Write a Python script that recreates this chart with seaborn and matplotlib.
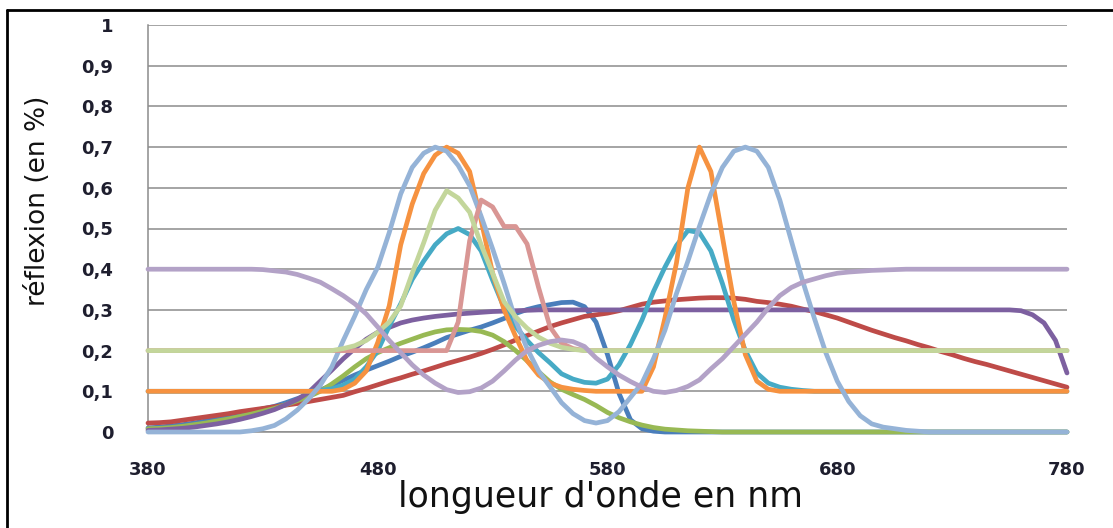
import matplotlib
matplotlib.use("Agg")
import matplotlib.pyplot as plt
from matplotlib.lines import Line2D
import seaborn as sns
import pandas as pd

# ---------------- data ----------------
wavelengths = list(range(380, 781, 5))

blue = [0.010, 0.012, 0.015, 0.018, 0.022, 0.027, 0.032, 0.037, 0.043, 0.050, 0.057,
        0.063, 0.072, 0.082, 0.092, 0.103, 0.115, 0.127, 0.140, 0.152, 0.163,
        0.174, 0.186, 0.196, 0.207, 0.219, 0.232, 0.241, 0.250, 0.258, 0.268,
        0.279, 0.291, 0.301, 0.308, 0.313, 0.318, 0.319, 0.308, 0.270, 0.190,
        0.095, 0.030, 0.008, 0.002, 0.0, 0.0, 0.0, 0.0, 0.0, 0.0,
        0.0, 0.0, 0.0, 0.0, 0.0, 0.0, 0.0, 0.0, 0.0, 0.0,
        0.0, 0.0, 0.0, 0.0, 0.0, 0.0, 0.0, 0.0, 0.0, 0.0,
        0.0, 0.0, 0.0, 0.0, 0.0, 0.0, 0.0, 0.0, 0.0, 0.0]

red = [0.022, 0.023, 0.025, 0.029, 0.033, 0.037, 0.041, 0.045, 0.050, 0.054, 0.058,
       0.062, 0.066, 0.070, 0.075, 0.080, 0.085, 0.090, 0.099, 0.107, 0.116,
       0.125, 0.133, 0.142, 0.150, 0.159, 0.168, 0.176, 0.184, 0.193, 0.203,
       0.214, 0.226, 0.237, 0.248, 0.259, 0.268, 0.276, 0.284, 0.288, 0.292,
       0.298, 0.306, 0.314, 0.319, 0.322, 0.325, 0.327, 0.329, 0.330, 0.330,
       0.329, 0.326, 0.321, 0.318, 0.314, 0.309, 0.302, 0.296, 0.288, 0.280,
       0.270, 0.260, 0.250, 0.241, 0.232, 0.224, 0.215, 0.207, 0.198, 0.190,
       0.181, 0.173, 0.166, 0.158, 0.150, 0.142, 0.134, 0.126, 0.118, 0.110]

green = [0.008, 0.009, 0.011, 0.014, 0.018, 0.022, 0.027, 0.032, 0.038, 0.044, 0.051,
         0.058, 0.067, 0.077, 0.087, 0.100, 0.118, 0.138, 0.160, 0.180, 0.195,
         0.207, 0.218, 0.228, 0.238, 0.246, 0.251, 0.252, 0.251, 0.247, 0.238,
         0.222, 0.200, 0.175, 0.148, 0.123, 0.105, 0.092, 0.080, 0.065, 0.048,
         0.035, 0.025, 0.017, 0.011, 0.007, 0.005, 0.003, 0.002, 0.001, 0.0,
         0.0, 0.0, 0.0, 0.0, 0.0, 0.0, 0.0, 0.0, 0.0, 0.0,
         0.0, 0.0, 0.0, 0.0, 0.0, 0.0, 0.0, 0.0, 0.0, 0.0,
         0.0, 0.0, 0.0, 0.0, 0.0, 0.0, 0.0, 0.0, 0.0, 0.0]

purple = [0.004, 0.005, 0.007, 0.009, 0.012, 0.016, 0.020, 0.025, 0.031, 0.038, 0.046,
          0.055, 0.067, 0.080, 0.098, 0.125, 0.152, 0.180, 0.205, 0.228, 0.245,
          0.257, 0.268, 0.275, 0.280, 0.284, 0.287, 0.290, 0.292, 0.294, 0.296,
          0.297, 0.298, 0.299, 0.300, 0.300, 0.300, 0.300, 0.300, 0.300, 0.300,
          0.300, 0.300, 0.300, 0.300, 0.300, 0.300, 0.300, 0.300, 0.300, 0.300,
          0.300, 0.300, 0.300, 0.300, 0.300, 0.300, 0.300, 0.300, 0.300, 0.300,
          0.300, 0.300, 0.300, 0.300, 0.300, 0.300, 0.300, 0.300, 0.300, 0.300,
          0.300, 0.300, 0.300, 0.300, 0.300, 0.298, 0.288, 0.268, 0.225, 0.145]

teal = [0.100, 0.100, 0.100, 0.100, 0.100, 0.100, 0.100, 0.100, 0.100, 0.100, 0.100,
        0.100, 0.100, 0.100, 0.100, 0.102, 0.106, 0.115, 0.130, 0.160, 0.200,
        0.260, 0.315, 0.375, 0.420, 0.460, 0.487, 0.500, 0.485, 0.445, 0.373,
        0.305, 0.259, 0.225, 0.195, 0.170, 0.143, 0.130, 0.122, 0.120, 0.130,
        0.165, 0.215, 0.275, 0.345, 0.405, 0.458, 0.495, 0.490, 0.445, 0.365,
        0.275, 0.200, 0.145, 0.120, 0.110, 0.105, 0.102, 0.100, 0.100, 0.100,
        0.100, 0.100, 0.100, 0.100, 0.100, 0.100, 0.100, 0.100, 0.100, 0.100,
        0.100, 0.100, 0.100, 0.100, 0.100, 0.100, 0.100, 0.100, 0.100, 0.100]

orange = [0.100, 0.100, 0.100, 0.100, 0.100, 0.100, 0.100, 0.100, 0.100, 0.100, 0.100,
          0.100, 0.100, 0.100, 0.100, 0.100, 0.100, 0.105, 0.120, 0.150, 0.220,
          0.310, 0.460, 0.560, 0.635, 0.680, 0.700, 0.685, 0.640, 0.520, 0.390,
          0.300, 0.235, 0.175, 0.140, 0.120, 0.110, 0.105, 0.102, 0.100, 0.100,
          0.100, 0.100, 0.100, 0.160, 0.280, 0.415, 0.600, 0.700, 0.640, 0.480,
          0.320, 0.190, 0.125, 0.105, 0.100, 0.100, 0.100, 0.100, 0.100, 0.100,
          0.100, 0.100, 0.100, 0.100, 0.100, 0.100, 0.100, 0.100, 0.100, 0.100,
          0.100, 0.100, 0.100, 0.100, 0.100, 0.100, 0.100, 0.100, 0.100, 0.100]

light_blue = [0.0, 0.0, 0.0, 0.0, 0.0, 0.0, 0.0, 0.0, 0.0, 0.003, 0.008,
              0.016, 0.032, 0.054, 0.082, 0.115, 0.160, 0.225, 0.285, 0.350, 0.405,
              0.490, 0.585, 0.650, 0.685, 0.700, 0.690, 0.655, 0.605, 0.530, 0.450,
              0.365, 0.275, 0.205, 0.150, 0.111, 0.072, 0.045, 0.028, 0.022, 0.028,
              0.050, 0.085, 0.120, 0.180, 0.250, 0.340, 0.420, 0.505, 0.585, 0.650,
              0.690, 0.700, 0.690, 0.650, 0.570, 0.470, 0.370, 0.280, 0.195, 0.125,
              0.075, 0.040, 0.020, 0.012, 0.008, 0.004, 0.002, 0.0, 0.0, 0.0,
              0.0, 0.0, 0.0, 0.0, 0.0, 0.0, 0.0, 0.0, 0.0, 0.0]

pink = [0.2] * 27 + [0.270, 0.470, 0.570, 0.553, 0.505, 0.505, 0.462, 0.355,
                     0.258, 0.218, 0.205, 0.200] + [0.2] * 42

light_green = [0.200, 0.200, 0.200, 0.200, 0.200, 0.200, 0.200, 0.200, 0.200, 0.200, 0.200,
               0.200, 0.200, 0.200, 0.200, 0.200, 0.200, 0.205, 0.212, 0.225, 0.245,
               0.270, 0.310, 0.390, 0.465, 0.545, 0.593, 0.575, 0.540, 0.460, 0.390,
               0.320, 0.283, 0.255, 0.233, 0.218, 0.208, 0.203, 0.200, 0.200, 0.200] + [0.2] * 40

lavender = [0.400, 0.400, 0.400, 0.400, 0.400, 0.400, 0.400, 0.400, 0.400, 0.400, 0.399,
            0.396, 0.393, 0.387, 0.378, 0.368, 0.352, 0.335, 0.315, 0.290, 0.258,
            0.225, 0.195, 0.165, 0.140, 0.120, 0.104, 0.097, 0.099, 0.108, 0.125,
            0.150, 0.177, 0.200, 0.213, 0.222, 0.226, 0.222, 0.210, 0.182, 0.160,
            0.140, 0.124, 0.110, 0.100, 0.097, 0.102, 0.112, 0.128, 0.155, 0.180,
            0.210, 0.240, 0.270, 0.305, 0.335, 0.355, 0.368, 0.376, 0.384, 0.390,
            0.393, 0.395, 0.397, 0.398, 0.399, 0.400, 0.400, 0.400, 0.400, 0.400,
            0.400, 0.400, 0.400, 0.400, 0.400, 0.400, 0.400, 0.400, 0.400, 0.400]

series_names = ["blue", "red", "green", "purple", "teal", "orange",
                "light_blue", "pink", "light_green", "lavender"]
series_values = [blue, red, green, purple, teal, orange,
                 light_blue, pink, light_green, lavender]
series_colors = ["#4A7EBB", "#BE4B48", "#98B954", "#7D60A0", "#46AAC5", "#F69240",
                 "#95B3D7", "#D99694", "#C3D69B", "#B3A2C7"]

x_ticks = [380, 480, 580, 680, 780]
y_ticks = [0, 0.1, 0.2, 0.3, 0.4, 0.5, 0.6, 0.7, 0.8, 0.9, 1.0]
y_tick_labels = ["0", "0,1", "0,2", "0,3", "0,4", "0,5", "0,6", "0,7", "0,8", "0,9", "1"]
x_label = "longueur d'onde en nm"
y_label = "réflexion (en %)"

# ---------------- build table ----------------
frames = []
for name, vals in zip(series_names, series_values):
    frames.append(pd.DataFrame({"wl": wavelengths, "r": vals, "serie": name}))
df = pd.concat(frames, ignore_index=True)

# ---------------- style ----------------
sns.set_style("white")
plt.rcParams["font.family"] = ["DejaVu Sans"]

W, H = 1113, 528
fig = plt.figure(figsize=(W / 100, H / 100), dpi=100)
fig.patch.set_facecolor("white")
ax = fig.add_axes([148 / W, 1 - 432 / H, 919 / W, 407 / H])

sns.lineplot(data=df, x="wl", y="r", hue="serie", hue_order=series_names,
             palette=dict(zip(series_names, series_colors)), estimator=None,
             sort=False, linewidth=3.4, legend=False, ax=ax)
for ln in ax.lines:
    ln.set_clip_on(False)
    ln.set_solid_capstyle("round")
    ln.set_solid_joinstyle("round")
    ln.set_zorder(3)

grid_col = "#8C8C8C"
ax.set_xlim(380, 780)
ax.set_ylim(0, 1)
ax.set_xticks(x_ticks)
ax.set_xticklabels([str(v) for v in x_ticks])
ax.set_yticks(y_ticks)
ax.set_yticklabels(y_tick_labels)
ax.set_axisbelow(True)
ax.yaxis.grid(True, color=grid_col, linewidth=1.1)
ax.xaxis.grid(False)
for s in ["top", "right"]:
    ax.spines[s].set_visible(False)
for s in ["left", "bottom"]:
    ax.spines[s].set_color(grid_col)
    ax.spines[s].set_linewidth(1.1)

txt_col = "#1E1E2E"
ax.tick_params(axis="y", length=8, width=1.1, color=grid_col, pad=17,
               labelsize=13, labelcolor=txt_col)
ax.tick_params(axis="x", length=5, width=1.1, color=grid_col, pad=16,
               labelsize=13, labelcolor=txt_col, direction="out")
for lab in ax.get_xticklabels() + ax.get_yticklabels():
    lab.set_fontweight("bold")
ax.set_xlabel("")
ax.set_ylabel("")

fig.text(600 / W, 1 - 497 / H, x_label, ha="center", va="center",
         fontsize=25, color="#111111")
fig.text(38 / W, 1 - 201 / H, y_label, ha="center", va="center",
         rotation=90, fontsize=19, color="#111111")

# outer frame (top and left edges visible in the reference crop)
fig.add_artist(Line2D([6.5 / W, 6.5 / W], [0, 1 - 10 / H],
                      transform=fig.transFigure, color="black", linewidth=2.0))
fig.add_artist(Line2D([6.5 / W, 1], [1 - 10 / H, 1 - 10 / H],
                      transform=fig.transFigure, color="black", linewidth=2.0))

fig.savefig("out.png", dpi=100, facecolor="white")
